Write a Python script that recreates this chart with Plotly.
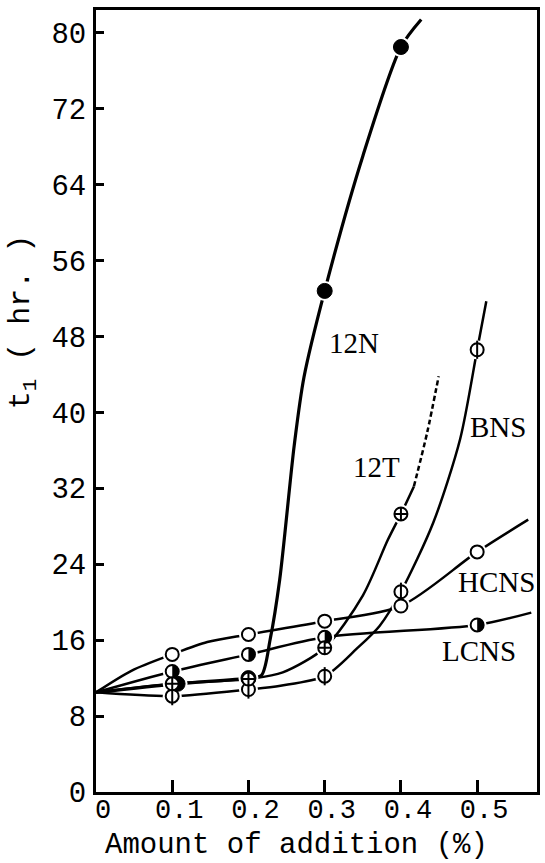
import plotly.graph_objects as go

# ---- data -------------------------------------------------------------
# addition levels (%) shown on the x axis
amount_ticks = [0.0, 0.1, 0.2, 0.3, 0.4, 0.5]
amount_labels = ["0", "0.1", "0.2", "0.3", "0.4", "0.5"]
t1_ticks = [0, 8, 16, 24, 32, 40, 48, 56, 64, 72, 80]

# measured points: t1 (hr.) against amount of addition (%)
hcns_x = [0.1, 0.2, 0.3, 0.4, 0.5]
hcns_t1 = [14.5, 16.6, 18.0, 19.6, 25.3]

lcns_x = [0.1, 0.2, 0.3, 0.5]
lcns_t1 = [12.7, 14.5, 16.3, 17.6]

bns_x = [0.1, 0.2, 0.3, 0.4, 0.5]
bns_t1 = [10.1, 10.8, 12.2, 21.1, 46.6]

t12_x = [0.1, 0.2, 0.3, 0.4]
t12_t1 = [11.4, 11.9, 15.2, 29.3]

n12_x = [0.107, 0.2, 0.3, 0.4]
n12_t1 = [11.4, 12.0, 52.8, 78.5]

# hand-drawn curves through the points (all start from the blank at 10.5 hr)
hcns_curve_x = [0, 0.047, 0.1, 0.146, 0.2, 0.3, 0.4, 0.5, 0.567]
hcns_curve_y = [10.5, 12.8, 14.5, 15.8, 16.6, 18.0, 19.6, 25.3, 28.7]

lcns_curve_x = [0, 0.1, 0.2, 0.3, 0.5, 0.571]
lcns_curve_y = [10.5, 12.7, 14.5, 16.3, 17.6, 18.9]

bns_curve_x = [0, 0.1, 0.2, 0.242, 0.3, 0.342, 0.372, 0.4, 0.4425, 0.4777, 0.5, 0.512]
bns_curve_y = [10.5, 10.1, 10.8, 11.2, 12.2, 15.1, 17.5, 21.1, 28.4, 37.2, 46.6, 51.7]

t12_curve_x = [0, 0.1, 0.2, 0.245, 0.3, 0.35, 0.383, 0.4, 0.417]
t12_curve_y = [10.5, 11.4, 11.9, 12.6, 15.2, 20.7, 26.6, 29.3, 32.2]
# extrapolated part of the 12T curve (dashed)
t12_ext_x = [0.417, 0.4345, 0.4495]
t12_ext_y = [32.2, 37.9, 43.8]

n12_curve_x = [0, 0.107, 0.2, 0.217, 0.2285, 0.241, 0.26, 0.2728, 0.3, 0.35, 0.4, 0.4266]
n12_curve_y = [10.5, 11.4, 12.0, 12.3, 16.1, 22.4, 36.5, 43.7, 52.8, 67.0, 78.5, 81.4]

# ---- figure -----------------------------------------------------------
INK = "black"
MONO = "Liberation Mono"
SERIF = "Liberation Serif"

fig = go.Figure()


def curve(x, y, width=2.5, dash="solid"):
    fig.add_trace(go.Scatter(
        x=x, y=y, mode="lines",
        line=dict(color=INK, width=width, dash=dash, shape="spline", smoothing=0.8),
        hoverinfo="skip"))


curve(hcns_curve_x, hcns_curve_y)
curve(lcns_curve_x, lcns_curve_y)
curve(bns_curve_x, bns_curve_y)
curve(t12_curve_x, t12_curve_y)
curve(t12_ext_x, t12_ext_y, dash="5px,3px")
curve(n12_curve_x, n12_curve_y, width=3.2)


def halo(x, y, size):
    # white ring that opens a small gap where the curves meet a point
    fig.add_trace(go.Scatter(
        x=x, y=y, mode="markers",
        marker=dict(symbol="circle", size=size, color="white", line=dict(width=0)),
        hoverinfo="skip"))


halo(bns_x, bns_t1, 19)
halo(hcns_x, hcns_t1, 19)
halo(lcns_x, lcns_t1, 19)
halo(n12_x, n12_t1, 20)
halo(t12_x, t12_t1, 19)

# BNS: circle with a vertical bar
fig.add_trace(go.Scatter(
    x=bns_x, y=bns_t1, mode="markers",
    marker=dict(symbol="circle", size=13, color="white", line=dict(color=INK, width=2))))
fig.add_trace(go.Scatter(
    x=bns_x, y=bns_t1, mode="markers",
    marker=dict(symbol="line-ns", size=13, line=dict(color=INK, width=2))))

# HCNS: open circle
fig.add_trace(go.Scatter(
    x=hcns_x, y=hcns_t1, mode="markers",
    marker=dict(symbol="circle", size=13, color="white", line=dict(color=INK, width=2))))

# LCNS: half-filled circle (outline marker + right half-disc shape)
fig.add_trace(go.Scatter(
    x=lcns_x, y=lcns_t1, mode="markers",
    marker=dict(symbol="circle", size=13, color="white", line=dict(color=INK, width=2))))
R = 6.5
K = 0.5523 * R
half_disc = (f"M 0,{R} C {K},{R} {R},{K} {R},0 "
             f"C {R},{-K} {K},{-R} 0,{-R} Z")
for x, y in zip(lcns_x, lcns_t1):
    fig.add_shape(type="path", xref="x", yref="y",
                  xsizemode="pixel", ysizemode="pixel", xanchor=x, yanchor=y,
                  path=half_disc, fillcolor=INK, line=dict(width=0), layer="above")

# 12N: filled circle
fig.add_trace(go.Scatter(
    x=n12_x, y=n12_t1, mode="markers",
    marker=dict(symbol="circle", size=15, color=INK, line=dict(color=INK, width=1))))

# 12T: crossed circle
fig.add_trace(go.Scatter(
    x=t12_x, y=t12_t1, mode="markers",
    marker=dict(symbol="circle-cross", size=13, color="white", line=dict(color=INK, width=2))))

# curve names
for name, x, y in [("12N", 0.339, 47.3), ("BNS", 0.527, 38.5), ("12T", 0.368, 34.2),
                   ("HCNS", 0.526, 22.1), ("LCNS", 0.502, 14.9)]:
    fig.add_annotation(x=x, y=y, text=name, showarrow=False,
                       font=dict(family=SERIF, size=29, color=INK),
                       xanchor="center", yanchor="middle")

# axis titles
fig.add_annotation(xref="paper", yref="paper", x=-0.167, y=0.601,
                   text="t<sub>1</sub> ( hr. )", textangle=-90, showarrow=False,
                   font=dict(family=MONO, size=30, color=INK),
                   xanchor="center", yanchor="middle")
fig.add_annotation(xref="paper", yref="paper", x=0.455, y=-0.0678,
                   text="Amount of addition (%)", showarrow=False,
                   font=dict(family=MONO, size=29, color=INK),
                   xanchor="center", yanchor="middle")

fig.update_xaxes(
    range=[0, 0.5785], tickvals=amount_ticks, ticktext=amount_labels,
    ticks="inside", ticklen=12, tickwidth=2.5, tickcolor=INK,
    showline=True, linewidth=3, linecolor=INK, mirror=True,
    showgrid=False, zeroline=False,
    tickfont=dict(family=MONO, size=27, color=INK),
    ticklabelstandoff=-9, ticklabelshift=7)
fig.update_yaxes(
    range=[0, 82.4], tickvals=t1_ticks,
    ticks="inside", ticklen=8, tickwidth=2.5, tickcolor=INK,
    showline=True, linewidth=3, linecolor=INK, mirror=True,
    showgrid=False, zeroline=False,
    tickfont=dict(family=MONO, size=29, color=INK),
    ticklabelstandoff=1)

fig.update_layout(
    width=545, height=863,
    margin=dict(l=96, r=5, t=10, b=71),
    plot_bgcolor="white", paper_bgcolor="white",
    showlegend=False)

fig.write_html("out.html")
